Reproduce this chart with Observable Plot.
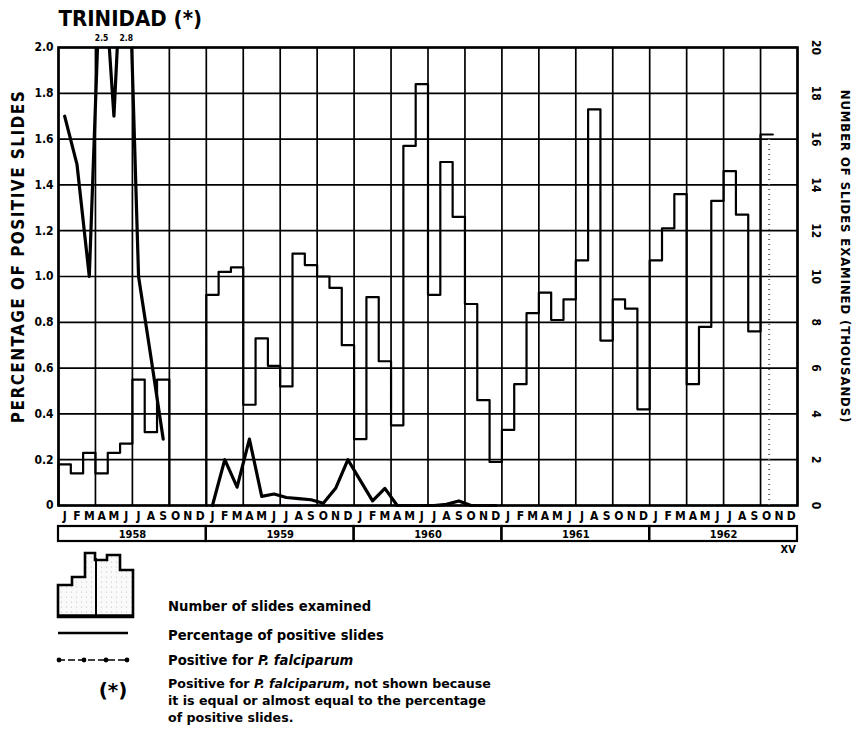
<!DOCTYPE html>
<html>
<head>
<meta charset="utf-8">
<script src="https://cdn.jsdelivr.net/npm/d3@7"></script>
<script src="https://cdn.jsdelivr.net/npm/@observablehq/plot@0.6"></script>
<style>
  html, body { margin: 0; padding: 0; background: #fff; }
  #wrap { position: relative; width: 854px; height: 750px; overflow: hidden; }
  #wrap > svg:first-child { position: absolute; left: 0; top: 0; }
  #legend { position: absolute; left: 0; top: 540px; }
</style>
</head>
<body>
<div id="wrap"></div>
<script>
// ---------- data ----------
const months = ["J","F","M","A","M","J","J","A","S","O","N","D"];
const years = ["1958","1959","1960","1961","1962"];
// Number of slides examined (thousands), Jan–Sep 1958
const slides1958 = [1.8, 1.4, 2.3, 1.4, 2.3, 2.7, 5.5, 3.2, 5.5];
// Number of slides examined (thousands), Jan 1959 – Sep 1962
const slides1959to1962 = [
  9.2, 10.2, 10.4, 4.4, 7.3, 6.1, 5.2, 11.0, 10.5, 10.0, 9.5, 7.0,
  2.9, 9.1, 6.3, 3.5, 15.7, 18.4, 9.2, 15.0, 12.6, 8.8, 4.6, 1.9,
  3.3, 5.3, 8.4, 9.3, 8.1, 9.0, 10.7, 17.3, 7.2, 9.0, 8.6, 4.2,
  10.7, 12.1, 13.6, 5.3, 7.8, 13.3, 14.6, 12.7, 7.6
];
// Oct 1962 (partial, stippled)
const slidesOct1962 = 16.2;
// Percentage of positive slides, Jan–Sep 1958
const pct1958 = [1.70, 1.49, 1.0, 2.5, 1.7, 2.8, 1.0, 0.65, 0.29];
// Percentage of positive slides, Jan 1959 – Dec 1960
const pct1959to1960 = [
  0, 0.2, 0.08, 0.29, 0.04, 0.05, 0.035, 0.03, 0.025, 0.01, 0.075, 0.2,
  0.11, 0.02, 0.075, 0, 0, 0, 0, 0.005, 0.02, 0, 0, 0
];
const leftTicks = [0, 0.2, 0.4, 0.6, 0.8, 1.0, 1.2, 1.4, 1.6, 1.8, 2.0];
const rightTicks = [0, 2, 4, 6, 8, 10, 12, 14, 16, 18, 20];
const title = "TRINIDAD (*)";
const leftTitle = "PERCENTAGE OF POSITIVE SLIDES";
const rightTitle = "NUMBER OF SLIDES EXAMINED (THOUSANDS)";
const footNote = "XV";

// ---------- derived tables ----------
const S = 10; // thousands -> left-axis units
function steps(start, vals, dropEnd) {
  const pts = [{x: start, y: 0}];
  vals.forEach((v, i) => pts.push({x: start + i, y: v / S}));
  pts.push({x: start + vals.length, y: vals[vals.length - 1] / S});
  if (dropEnd) pts.push({x: start + vals.length, y: 0});
  return pts;
}
const steps58 = steps(0, slides1958, true);
const steps59 = steps(12, slides1959to1962.concat([slidesOct1962]), false);
const pctA = pct1958.map((v, i) => ({x: i + 0.5, y: v}));
const pctB = pct1959to1960.map((v, i) => ({x: 12 + i + 0.5, y: v}));
const peaks = pctA.filter(d => d.y > 2);
const monthCells = years.flatMap((yr, yi) => months.map((m, mi) => ({i: yi * 12 + mi, m})));
const yearCells = years.map((yr, i) => ({i, yr}));
const quarterLines = d3.range(0, 61, 3);
const oct62 = [{x: 57.7, y: slidesOct1962 / S}];

const FONT = '"DejaVu Sans", sans-serif';
const yb1 = -21 / 229, yb2 = -36 / 229;

const chart = Plot.plot({
  width: 854,
  height: 560,
  marginLeft: 58,
  marginRight: 57,
  marginTop: 47,
  marginBottom: 55,
  x: {domain: [0, 60], axis: null},
  y: {domain: [0, 2], axis: null},
  style: {fontFamily: FONT, fontWeight: "bold", fontStretch: "condensed", background: "transparent", overflow: "visible", color: "black"},
  marks: [
    Plot.ruleY(leftTicks, {stroke: "black", strokeWidth: 1.7}),
    Plot.ruleX(quarterLines, {stroke: "black", strokeWidth: 1.7}),
    Plot.frame({stroke: "black", strokeWidth: 2.6}),
    // stippled partial month Oct 1962
    Plot.ruleX(oct62, {x: "x", y1: 0, y2: "y", stroke: "#666", strokeWidth: 2, strokeDasharray: "1,4"}),
    // number of slides examined (step outline)
    Plot.line(steps58, {x: "x", y: "y", curve: "step-after", stroke: "black", strokeWidth: 2.2}),
    Plot.line(steps59, {x: "x", y: "y", curve: "step-after", stroke: "black", strokeWidth: 2.2}),
    // percentage of positive slides
    Plot.line(pctA, {x: "x", y: "y", stroke: "black", strokeWidth: 3.2, clip: true}),
    Plot.line(pctB, {x: "x", y: "y", stroke: "black", strokeWidth: 3.2}),
    Plot.text(peaks, {x: "x", frameAnchor: "top", lineAnchor: "middle", dy: -9, text: d => d.y.toFixed(1), fontSize: 8.5}),
    // left axis
    Plot.text(leftTicks, {y: d => d, frameAnchor: "left", dx: -5, textAnchor: "end", lineAnchor: "middle",
      text: d => d === 0 ? "0" : d.toFixed(1), fontSize: 12}),
    // right axis (rotated numbers)
    Plot.text(rightTicks, {y: d => d / S, frameAnchor: "right", dx: 18, rotate: 90, textAnchor: "middle", lineAnchor: "middle",
      text: d => String(d), fontSize: 12}),
    // axis titles
    Plot.text([leftTitle], {frameAnchor: "left", dx: -40, dy: -20, rotate: -90, textAnchor: "middle", lineAnchor: "middle",
      fontSize: 17, text: d => d}),
    Plot.text([rightTitle], {frameAnchor: "right", dx: 48, dy: -20, rotate: 90, textAnchor: "middle", lineAnchor: "middle",
      fontSize: 13, text: d => d}),
    // title
    Plot.text([title], {frameAnchor: "top-left", dy: -29, textAnchor: "start", lineAnchor: "middle", fontSize: 22,
      text: d => d}),
    // month letters
    Plot.text(monthCells, {x: d => d.i + 0.5, frameAnchor: "bottom", lineAnchor: "middle", dy: 11, text: "m", fontSize: 12}),
    // year boxes
    Plot.rect(yearCells, {x1: d => d.i * 12, x2: d => (d.i + 1) * 12, y1: yb1, y2: yb2,
      fill: "none", stroke: "black", strokeWidth: 2.2}),
    Plot.text(yearCells, {x: d => d.i * 12 + 6, frameAnchor: "bottom", lineAnchor: "middle", dy: 29, text: "yr", fontSize: 11}),
    Plot.text([footNote], {x: 59.25, frameAnchor: "bottom", lineAnchor: "middle", dy: 44, text: d => d, fontSize: 11})
  ]
});
// letter spacing for the two axis titles
d3.select(chart).selectAll("text").filter(function () { return this.textContent === leftTitle; })
  .style("letter-spacing", "1.45px");
d3.select(chart).selectAll("text").filter(function () { return this.textContent === rightTitle; })
  .style("letter-spacing", "0.9px");
document.getElementById("wrap").appendChild(chart);

// ---------- legend ----------
const OFF = 540;
const legendHTML = `
<svg id="legend" width="854" height="210" xmlns="http://www.w3.org/2000/svg"
  style="font-family:'DejaVu Sans', sans-serif; font-weight:bold; font-size:13.2px">
  <defs>
    <pattern id="stip" width="5" height="5" patternUnits="userSpaceOnUse">
      <rect width="5" height="5" fill="#fafafa"/>
      <circle cx="1.5" cy="2" r="0.6" fill="#bbb"/>
    </pattern>
  </defs>
  <g transform="translate(0,${-OFF})">
    <path d="M58,617 V585 H72 V577 H85 V553 H95 V560 H107 V555 H120 V570 H133 V617 Z"
      fill="url(#stip)" stroke="black" stroke-width="2.6" stroke-linejoin="miter"/>
    <line x1="58" y1="616" x2="133" y2="616" stroke="black" stroke-width="3.5"/>
    <line x1="96" y1="558" x2="96" y2="617" stroke="black" stroke-width="2"/>
    <text x="168" y="611">Number of slides examined</text>
    <line x1="58" y1="633" x2="128" y2="633" stroke="black" stroke-width="2.6"/>
    <text x="168" y="640">Percentage of positive slides</text>
    <line x1="58" y1="660" x2="128" y2="660" stroke="black" stroke-width="1.6" stroke-dasharray="7,3"/>
    <circle cx="59" cy="660" r="2.4"/><circle cx="84" cy="660" r="2.4"/>
    <circle cx="106" cy="660" r="2.4"/><circle cx="127" cy="660" r="2.4"/>
    <text x="168" y="665">Positive for <tspan font-style="italic">P. falciparum</tspan></text>
    <text x="113" y="697" text-anchor="middle" font-size="20">(*)</text>
    <g font-size="12.6">
      <text x="168" y="688">Positive for <tspan font-style="italic">P. falciparum</tspan>, not shown because</text>
      <text x="168" y="705">it is equal or almost equal to the percentage</text>
      <text x="168" y="722">of positive slides.</text>
    </g>
  </g>
</svg>`;
document.getElementById("wrap").insertAdjacentHTML("beforeend", legendHTML);
</script>
</body>
</html>
